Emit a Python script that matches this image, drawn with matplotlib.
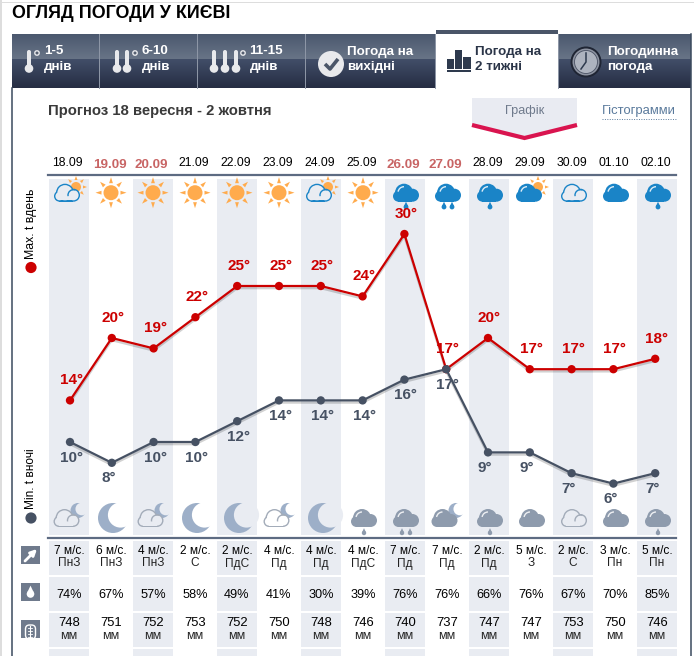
import numpy as np
import matplotlib
matplotlib.use("Agg")
import matplotlib.pyplot as plt
import matplotlib.patheffects as pe
from matplotlib.patches import Circle, Rectangle, Polygon, Arc, FancyBboxPatch

plt.rcParams['font.family'] = ['Liberation Sans', 'DejaVu Sans']

dates = ["18.09", "19.09", "20.09", "21.09", "22.09", "23.09", "24.09", "25.09",
         "26.09", "27.09", "28.09", "29.09", "30.09", "01.10", "02.10"]
weekend = [1, 2, 8, 9]
t_max = [14, 20, 19, 22, 25, 25, 25, 24, 30, 17, 20, 17, 17, 17, 18]
t_min = [10, 8, 10, 10, 12, 14, 14, 14, 16, 17, 9, 9, 7, 6, 7]
day_icons = ["part", "sun", "sun", "sun", "sun", "sun", "part", "sun",
             "rain1", "rain2", "rain1", "fullsun", "open", "full", "rain1"]
night_icons = ["openmoon", "moon", "openmoon", "moon", "moon", "openmoon", "moon", "rain1",
               "rain2", "fullmoon", "rain1", "full", "open", "full", "rain1"]
wind_speed = [7, 6, 4, 2, 2, 4, 4, 4, 7, 7, 2, 5, 2, 3, 5]
wind_dir = ["ПнЗ", "ПнЗ", "ПнЗ", "С", "ПдС", "Пд", "Пд", "ПдС", "Пд", "Пд", "Пд", "З", "С", "Пн", "Пн"]
humidity = [74, 67, 57, 58, 49, 41, 30, 39, 76, 76, 66, 76, 67, 70, 85]
pressure = [748, 751, 752, 753, 752, 750, 748, 746, 740, 737, 747, 747, 753, 750, 746]

W, H = 694, 656
STRIPE = "#e9ecf2"
DARK = "#465163"
RED = "#cc0000"
BLUE = "#1a84c7"
NIGHT = "#8e9bad"
MOON = "#9dafc8"
SUN = "#ffab4d"

fig = plt.figure(figsize=(W / 100, H / 100), dpi=100)
ax = fig.add_axes([0, 0, 1, 1])
ax.set_xlim(0, W)
ax.set_ylim(H, 0)
ax.axis("off")


def col(i):
    return 69 + 42 * i


def bg_of(i):
    return STRIPE if i % 2 == 0 else "white"


def put(x, y, s, size=8.6, color="black", weight="normal", ha="center", z=6, **kw):
    ax.text(x, y, s, fontsize=size, color=color, fontweight=weight, ha=ha, va="center", zorder=z, **kw)


def draw_sun(cx, cy, r, r1, r2, z=3):
    ax.add_patch(Circle((cx, cy), r, color=SUN, lw=0, zorder=z))
    for a in np.arange(0, 360, 45):
        d = np.radians(a)
        u = np.array([np.cos(d), np.sin(d)])
        n = np.array([-u[1], u[0]])
        c = np.array([cx, cy])
        w = 1.7 * r1 / 10 + 0.3
        ax.add_patch(Polygon([c + u * r1 + n * w, c + u * r1 - n * w, c + u * r2],
                             color=SUN, lw=0, zorder=z))


def cloud_parts(cx, base):
    return [(cx - 7.5, base - 5.5, 5.5), (cx - 2, base - 9, 9), (cx + 6.5, base - 6.5, 6.5)]


def draw_cloud(cx, base, color, outline=False, bg="white", z=4):
    parts = cloud_parts(cx, base)
    for x, y, r in parts:
        ax.add_patch(Circle((x, y), r, color=color, lw=0, zorder=z))
    ax.add_patch(Rectangle((cx - 7.5, base - 8), 14, 8, color=color, lw=0, zorder=z))
    if outline:
        for x, y, r in parts:
            ax.add_patch(Circle((x, y), r - 1.4, color=bg, lw=0, zorder=z + 0.1))
        ax.add_patch(Rectangle((cx - 7.5, base - 8), 14, 6.6, color=bg, lw=0, zorder=z + 0.1))
        ax.add_patch(Arc((cx + 6.5, base - 6.5), 11, 11, theta1=170, theta2=290,
                         color=color, lw=1, zorder=z + 0.2))
    else:
        ax.add_patch(Arc((cx - 2, base - 9), 12, 12, theta1=190, theta2=270,
                         color="white", lw=1, alpha=0.85, zorder=z + 0.2))


def draw_drop(cx, cy, r, color, z=4):
    ax.add_patch(Circle((cx, cy), r, color=color, lw=0, zorder=z))
    ax.add_patch(Polygon([(cx - r * 0.85, cy - r * 0.4), (cx + r * 0.85, cy - r * 0.4), (cx, cy - r * 2.2)],
                         color=color, lw=0, zorder=z))


def draw_moon(cx, cy, r, bg, color=MOON, z=3):
    ax.add_patch(Circle((cx, cy), r, color=color, lw=0, zorder=z))
    ax.add_patch(Circle((cx + r * 0.5, cy - r * 0.2), r * 0.84, color=bg, lw=0, zorder=z + 0.1))


def draw_day_icon(i, kind):
    c = col(i)
    bg = bg_of(i)
    base = 201.7
    if kind == "sun":
        draw_sun(c, 192.7, 7.5, 9.5, 15.5)
    elif kind == "part":
        draw_sun(c + 7, 187, 5, 7, 11)
        draw_cloud(c - 2, base, BLUE, True, bg)
    elif kind == "fullsun":
        draw_sun(c + 7, 187, 5, 7, 11)
        draw_cloud(c - 2, base, BLUE)
    elif kind == "open":
        draw_cloud(c + 1, base, BLUE, True, bg)
    else:
        draw_cloud(c + 1, base, BLUE)
        if kind == "rain1":
            draw_drop(c + 1, 207, 2.4, BLUE)
        elif kind == "rain2":
            draw_drop(c - 3, 207, 2.4, BLUE)
            draw_drop(c + 5, 207, 2.4, BLUE)


def draw_night_icon(i, kind):
    c = col(i)
    bg = bg_of(i)
    base = 527
    if kind == "moon":
        draw_moon(c + 2, 518, 15, bg)
    elif kind == "openmoon":
        draw_moon(c + 9, 510.5, 7.5, bg)
        draw_cloud(c - 2.5, base, "#a3acb9", True, bg)
    elif kind == "fullmoon":
        draw_moon(c + 9, 510.5, 7.5, bg)
        draw_cloud(c - 2.5, base, NIGHT)
    elif kind == "open":
        draw_cloud(c + 1, base, "#a3acb9", True, bg)
    else:
        draw_cloud(c + 1, base, NIGHT)
        if kind == "rain1":
            draw_drop(c + 1, 533, 2.2, NIGHT)
        elif kind == "rain2":
            draw_drop(c - 3, 533, 2.2, NIGHT)
            draw_drop(c + 5, 533, 2.2, NIGHT)


def draw_thermo(x):
    ax.add_patch(Rectangle((x - 2, 52), 4, 16, color="#e8e9ec", lw=0, zorder=3))
    ax.add_patch(Circle((x, 52), 2, color="#e8e9ec", lw=0, zorder=3))
    ax.add_patch(Circle((x, 68.5), 4.3, color="#e8e9ec", lw=0, zorder=3))


# page edges
ax.add_patch(Rectangle((0, 0), 2, H, color="#dddddd", lw=0))
ax.add_patch(Rectangle((0, 2), W, 1, color="#dddddd", lw=0))
ax.plot([12.5, 12.5], [88, H], color="#3b4a5e", lw=1.1, zorder=2)
ax.plot([691.5, 691.5], [34, H], color="#3b4a5e", lw=1.1, zorder=2)

put(12, 13, "ОГЛЯД ПОГОДИ У КИЄВІ", size=12.9, weight="bold", ha="left")

# tab strip gradient
grad = np.zeros((54, 1, 3))
top1, top2 = np.array([0x4b, 0x58, 0x6e]), np.array([0x68, 0x74, 0x86])
low1, low2 = np.array([0x42, 0x4e, 0x68]), np.array([0x26, 0x2d, 0x43])
for k in range(54):
    if k < 25:
        grad[k, 0] = (top1 + (top2 - top1) * k / 24) / 255
    else:
        grad[k, 0] = (low1 + (low2 - low1) * (k - 25) / 28) / 255
ax.imshow(grad, extent=(12, 691, 88, 34), aspect="auto", zorder=1, interpolation="bilinear")
ax.set_xlim(0, W)
ax.set_ylim(H, 0)
for x in [99, 197, 305, 435.5, 558.5]:
    ax.plot([x, x], [34, 88], color="#8f98a8", lw=0.7, zorder=2)
ax.add_patch(Rectangle((436, 34), 122, 56, color="white", lw=0, zorder=2))
ax.add_patch(Rectangle((436, 30), 122, 4, color="#4a5568", lw=0, zorder=2))

for x, txt in [(44, "1-5"), (141.5, "6-10"), (249.5, "11-15")]:
    put(x, 51.5, txt, size=9.6, color="white", weight="bold", ha="left")
    put(x, 67, "днів", size=9.6, color="white", weight="bold", ha="left")
for x in [29, 117, 127, 214, 225, 236]:
    draw_thermo(x)
for x in [37, 135, 243]:
    ax.add_patch(Circle((x, 53), 2.2, facecolor="#555f70", edgecolor="#e8e9ec", lw=1, zorder=3))

put(347, 51.5, "Погода на", size=9.6, color="white", weight="bold", ha="left")
put(347, 67, "вихідні", size=9.6, color="white", weight="bold", ha="left")
put(475, 51.5, "Погода на", size=9.6, color="#2b3548", weight="bold", ha="left")
put(475, 67, "2 тижні", size=9.6, color="#2b3548", weight="bold", ha="left")
put(607, 51.5, "Погодинна", size=9.6, color="white", weight="bold", ha="left")
put(607, 67, "погода", size=9.6, color="white", weight="bold", ha="left")

# check mark icon
ax.add_patch(Circle((331, 64), 13, color="#e8e9ec", lw=0, zorder=3))
ax.plot([325, 330, 338], [64, 69, 59], color="#4a5568", lw=2.6, zorder=4, solid_capstyle="butt")

# small bars icon
for x, top, w in [(447, 59, 7.5), (455, 50, 7.5), (463, 57, 8)]:
    ax.add_patch(Rectangle((x, top), w, 69 - top, color="#2e3a4e", lw=0, zorder=3))
ax.add_patch(Rectangle((447, 70), 24, 2, color="#2e3a4e", lw=0, zorder=3))

# clock icon
ax.add_patch(Circle((586, 62), 15.5, color="#1f2534", lw=0, zorder=3))
ax.add_patch(Circle((586, 62), 13.5, color="#8d93a1", lw=0, zorder=3))
ax.add_patch(Circle((586, 62), 11.5, color="#adb3bf", ec="#4a5264", lw=0.6, zorder=3))
ax.plot([586, 586, 581], [53, 62, 69], color="#2e3a4e", lw=1.1, zorder=4)

put(48, 111, "Прогноз 18 вересня - 2 жовтня", size=10.7, color="#3a3a3a", weight="bold", ha="left")

# switcher
ax.add_patch(Polygon([(472, 98), (577, 98), (577, 124), (524.5, 139), (472, 124)], color="#e9ebf2", lw=0, zorder=2))
ax.plot([472, 524.5, 577], [125, 138, 125], color="#d9144f", lw=3, zorder=3,
        solid_joinstyle="miter", solid_capstyle="butt")
put(524.5, 111, "Графік", size=9.2, color="#6f7a8c")
put(602, 111, "Гістограмми", size=9.4, color="#5a7a9c", ha="left")
ax.plot([602, 676], [119, 119], color="#5a7a9c", lw=0.7, ls=(0, (1, 1.5)), zorder=3)

# header and stripes
for i, d in enumerate(dates):
    if i in weekend:
        put(col(i) - 1.5, 165, d, size=9.6, color="#c86464", weight="bold")
    else:
        put(col(i) - 1.3, 163, d, size=8.8)
    if i % 2 == 0:
        ax.add_patch(Rectangle((col(i) - 20, 179), 40, 356, color=STRIPE, lw=0, zorder=1))
        for y0, y1 in [(541, 575), (577, 611), (613, 647), (649, H)]:
            ax.add_patch(Rectangle((col(i) - 20, y0), 40, y1 - y0, color=STRIPE, lw=0, zorder=1))
ax.plot([48, 676], [174.5, 174.5], color="#5d6b82", lw=1.6, zorder=2)
ax.plot([48, 676], [537.5, 537.5], color="#5d6b82", lw=1.6, zorder=2)

# weather icons
for i, kind in enumerate(day_icons):
    draw_day_icon(i, kind)
for i, kind in enumerate(night_icons):
    draw_night_icon(i, kind)

# rotated legend
ax.add_patch(Circle((31, 267.5), 5.6, color=RED, lw=0, zorder=3))
put(31, 223.5, "Max. t вдень", size=8.8, rotation=90)
ax.add_patch(Circle((31, 518), 5.6, color=DARK, lw=0, zorder=3))
put(31, 478.5, "Min. t вночі", size=8.6, rotation=90)

# temperature chart
ch = fig.add_axes([49 / W, 1 - 535 / H, (678 - 49) / W, (535 - 179) / H])
ch.patch.set_alpha(0)
ch.axis("off")
ch.set_xlim((49 - 70) / 41.8, (678 - 70) / 41.8)
ch.set_ylim(30 - (535 - 234) / 10.4, 30 - (179 - 234) / 10.4)
days = np.arange(len(dates))
shadow = [pe.SimpleLineShadow(offset=(0, -1.6), alpha=0.18, shadow_color="black"), pe.Normal()]
ch.plot(days, t_max, color=RED, lw=1.6, marker="o", ms=6, mew=0, path_effects=shadow, zorder=3)
ch.plot(days, t_min, color=DARK, lw=1.6, marker="o", ms=6, mew=0, path_effects=shadow, zorder=4)
for i, t in enumerate(t_max):
    ch.annotate(f"{t}°", (i, t), xytext=(-7.2, 14.5), textcoords="offset points", color=RED,
                fontsize=11, fontweight="bold", ha="left", va="center", zorder=6)
for i, t in enumerate(t_min):
    ch.annotate(f"{t}°", (i, t), xytext=(-7.2, -11.2), textcoords="offset points", color=DARK,
                fontsize=11, fontweight="bold", ha="left", va="center", zorder=6)

# table under chart
ax.add_patch(Rectangle((21, 546), 19, 18, color="#6f7a8c", lw=0, zorder=3))
ax.annotate("", xy=(37, 549), xytext=(25, 561), zorder=4,
            arrowprops=dict(arrowstyle="-|>", color="white", lw=2, mutation_scale=9, shrinkA=0, shrinkB=0))
ax.add_patch(Rectangle((21, 583), 19, 18, color="#6f7a8c", lw=0, zorder=3))
draw_drop(30.5, 594, 3.8, "white")
ax.add_patch(Rectangle((21, 620), 19, 18, color="#6f7a8c", lw=0, zorder=3))
ax.add_patch(FancyBboxPatch((25.5, 625), 10, 14, boxstyle="round,pad=0,rounding_size=4",
                            fc="none", ec="white", lw=1, zorder=4))
ax.plot([30.5, 30.5], [626, 638], color="white", lw=0.8, zorder=4)
for y in [628, 631, 634, 637]:
    ax.plot([28.5, 32.5], [y, y], color="white", lw=0.6, zorder=4)
ax.add_patch(Rectangle((21, 638), 19, 6, color="white", lw=0, zorder=4.5))

for i in range(len(dates)):
    c = col(i)
    put(c, 551.5, f"{wind_speed[i]} м/с.", size=8.6)
    put(c, 563.5, wind_dir[i], size=8.6, color="#222222")
    put(c, 594.5, f"{humidity[i]}%", size=9.2)
    put(c, 623, str(pressure[i]), size=9.4)
    put(c, 636, "мм", size=9, color="#222222")

fig.savefig("out.png", dpi=100)
